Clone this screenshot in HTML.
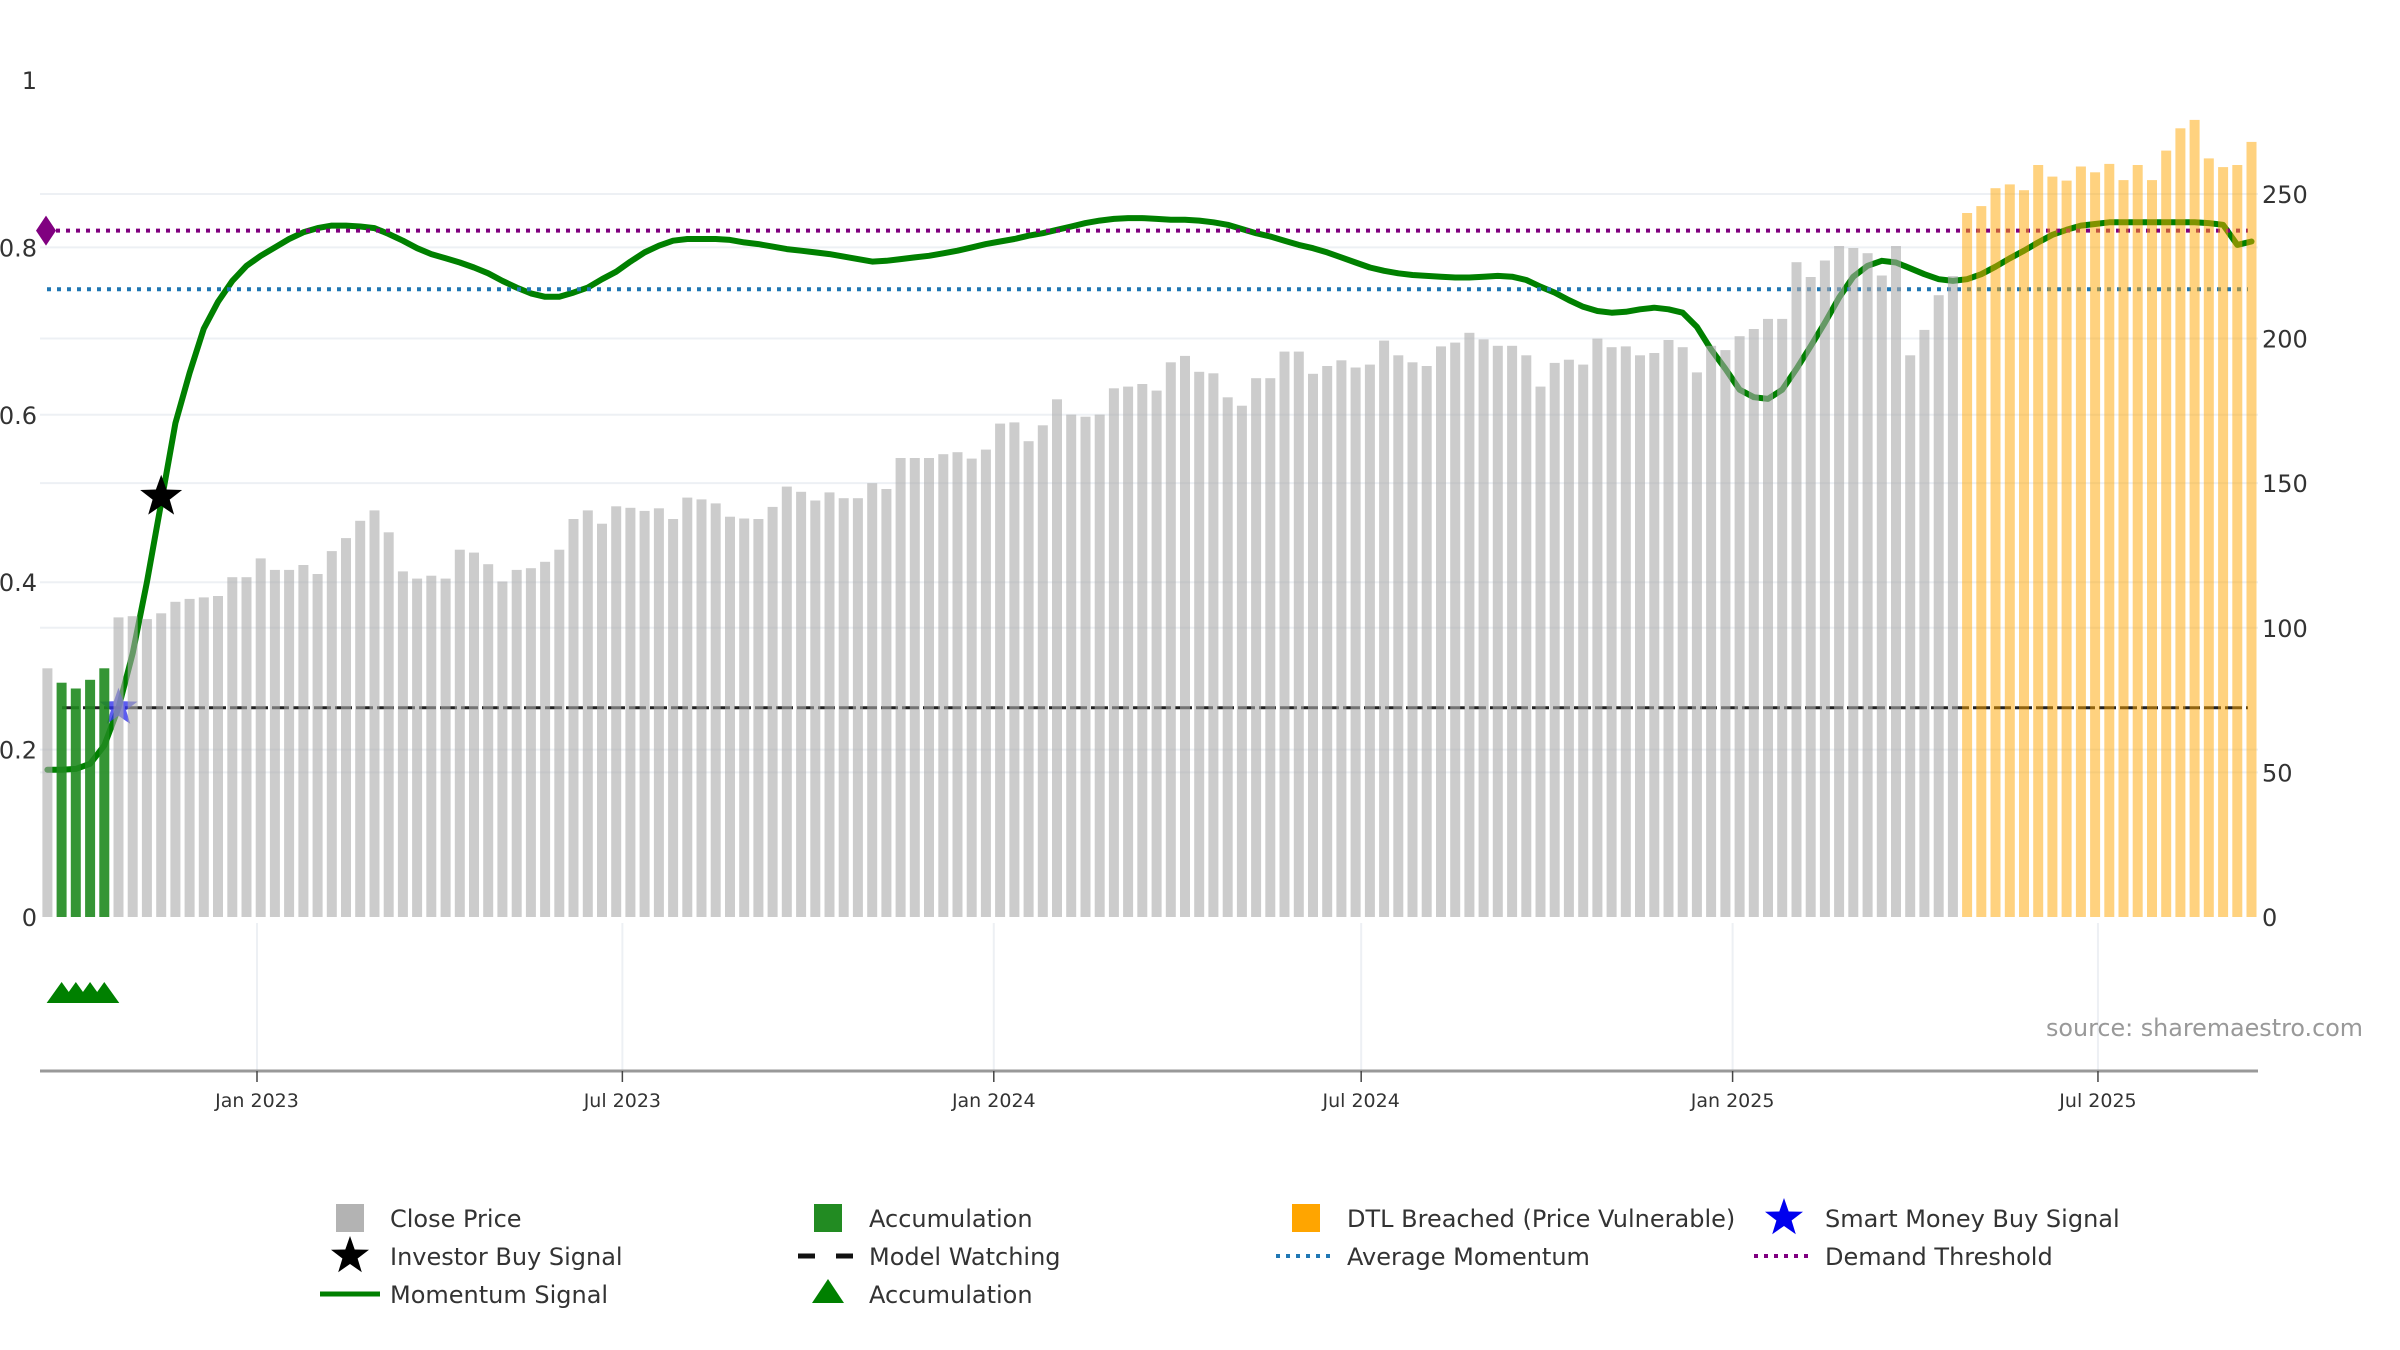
<!DOCTYPE html>
<html>
<head>
<meta charset="utf-8">
<style>
html,body{margin:0;padding:0;background:#fff;}
svg{display:block;font-family:"DejaVu Sans","Liberation Sans",sans-serif;}
</style>
</head>
<body>
<svg id="chart" width="2400" height="1350" viewBox="0 0 2400 1350" xmlns="http://www.w3.org/2000/svg"></svg>
<script>
// ---- data ----
const closePrices = [86,81,79,82,86,103.6,104,103,105,109,110,110.5,111,117.5,117.5,124,120,120,121.7,118.6,
126.5,131,137,140.6,133,119.5,117,118,117,127,126,122,116,120,120.6,122.8,127,137.6,140.6,136,
142,141.5,140.4,141.3,137.6,145,144.4,143,138.4,137.8,137.6,141.8,148.8,147,144,146.8,144.8,144.8,150,148,
158.7,158.7,158.7,160,160.7,158.5,161.6,170.6,171,164.5,170,179,173.7,173,173.7,182.8,183.4,184.3,182,191.8,
194,188.5,188,179.7,176.8,186.3,186.3,195.5,195.5,187.8,190.5,192.5,190,191,199.3,194.2,191.8,190.5,197.3,198.6,
202,199.7,197.5,197.5,194.2,183.4,191.6,192.7,191,200,197,197.3,194.2,195,199.5,197,188.3,197.5,196,200.8,
203.3,206.8,206.8,226.4,221.3,227,232,231.3,229.5,221.8,232,194.2,203,215,221.6,243.4,245.8,252,253.3,251.3,
260,256,254.6,259.5,257.5,260.4,254.8,260,254.8,265,272.7,275.6,262.3,259.3,260,268];
const momentum = [.176,.176,.177,.183,.205,.250,.315,.400,.495,.590,.650,.703,.735,.760,.778,.790,.800,.810,.818,.823,
.826,.826,.825,.823,.816,.808,.799,.792,.787,.782,.776,.769,.760,.752,.745,.741,.741,.746,.752,.762,
.771,.783,.794,.802,.808,.810,.810,.810,.809,.806,.804,.801,.798,.796,.794,.792,.789,.786,.783,.784,
.786,.788,.790,.793,.796,.800,.804,.807,.810,.814,.817,.821,.825,.829,.832,.834,.835,.835,.834,.833,
.833,.832,.830,.827,.822,.817,.813,.808,.803,.799,.794,.788,.782,.776,.772,.769,.767,.766,.765,.764,
.764,.765,.766,.765,.761,.753,.746,.737,.729,.724,.722,.723,.726,.728,.726,.722,.705,.678,.655,.630,
.621,.619,.630,.655,.682,.710,.740,.765,.778,.784,.782,.775,.768,.762,.760,.762,.768,.777,.787,.796,
.806,.815,.821,.826,.828,.830,.830,.830,.830,.830,.830,.830,.829,.827,.803,.807];
const accumulationBars = [2,3,4,5];      // 1-based bar indices
const dtlBreachedFrom = 136;             // bars from here on are DTL breached
const accumulationTriangles = [2,3,4,5];
const investorBuy = [{bar:9, value:0.502}];
const smartMoneyBuy = [{bar:6, value:0.25}];
const demandThreshold = 0.82;
const averageMomentum = 0.75;
const modelWatching = 0.25;
const leftTicks = [0,0.2,0.4,0.6,0.8,1];
const leftTickLabels = ["0","0.2","0.4","0.6","0.8","1"];
const rightTicks = [0,50,100,150,200,250];
const xTickLabels = ["Jan 2023","Jul 2023","Jan 2024","Jul 2024","Jan 2025","Jul 2025"];
const xTickDays = [0,181,365,547,731,912]; // days since 2023-01-01

// ---- scales ----
const svg = document.getElementById('chart');
const NS = 'http://www.w3.org/2000/svg';
const Y0 = 917, YTOP = 80, PL = 40, PR = 2258;
const RMAX = 289.4;
const xBar = i => 47.4 + (i - 1) * 14.22;
const xDay = d => 257 + d * 2.0186;
const yL = v => Y0 - v * (Y0 - YTOP);
const yR = v => Y0 - v / RMAX * (Y0 - YTOP);

function el(tag, attrs, parent){
  const e = document.createElementNS(NS, tag);
  for (const k in attrs) e.setAttribute(k, attrs[k]);
  (parent || svg).appendChild(e);
  return e;
}
function starPts(cx, cy, R, r){
  let p = [];
  for (let k = 0; k < 10; k++){
    const a = -Math.PI/2 + k*Math.PI/5, rr = k%2 ? r : R;
    p.push((cx + rr*Math.cos(a)).toFixed(1) + ',' + (cy + rr*Math.sin(a)).toFixed(1));
  }
  return p.join(' ');
}

// gridlines
const grid = el('g', {});


leftTicks.slice(1, 5).forEach(t => {
  const l = el('line', {x1:PL, x2:PR, y1:yL(t), y2:yL(t), stroke:'#edf0f4', 'stroke-width':2}, grid);
  
  
});
rightTicks.slice(1).forEach(t => {
  const l = el('line', {x1:PL, x2:PR, y1:yR(t), y2:yR(t), stroke:'#edf0f4', 'stroke-width':2}, grid);
  
  
});
xTickDays.forEach(d => {
  const l = el('line', {x1:xDay(d), x2:xDay(d), y1:923, y2:1071, stroke:'#edf0f4', 'stroke-width':2}, grid);
  
  
});

// momentum line (under bars)
const mPts = momentum.map((v, i) => xBar(i + 1).toFixed(1) + ',' + yL(v).toFixed(1)).join(' ');
const mLine = el('polyline', {points:mPts, fill:'none', stroke:'#008000', 'stroke-width':6, 'stroke-linejoin':'round', 'stroke-linecap':'round'});



// reference lines
const dt = el('line', {x1:46, x2:2248, y1:yL(demandThreshold), y2:yL(demandThreshold), stroke:'#800080', 'stroke-width':4, 'stroke-dasharray':'4 6'});


const am = el('line', {x1:47, x2:2248, y1:yL(averageMomentum), y2:yL(averageMomentum), stroke:'#1f77b4', 'stroke-width':4, 'stroke-dasharray':'4 6'});


const mw = el('line', {x1:62, x2:2248, y1:yL(modelWatching), y2:yL(modelWatching), stroke:'#222', 'stroke-width':3, 'stroke-dasharray':'17 4'});


const dia = el('polygon', {points:`${46-10},${yL(demandThreshold)} 46,${yL(demandThreshold)-15} ${46+10},${yL(demandThreshold)} 46,${yL(demandThreshold)+15}`, fill:'#800080'});



// smart money star (under bars)
smartMoneyBuy.forEach(s => {
  const st = el('polygon', {points:starPts(xBar(s.bar), yL(s.value), 20, 8), fill:'#3333ee', 'fill-opacity':0.8});
  
  
});

// bars
const bars = el('g', {});


closePrices.forEach((v, k) => {
  const i = k + 1;
  let fill = '#aaaaaa', op = 0.6;
  if (accumulationBars.includes(i)) { fill = '#1f8a1f'; op = 0.9; }
  else if (i >= dtlBreachedFrom) { fill = '#FFA500'; op = 0.5; }
  const b = el('rect', {x:(xBar(i) - 5).toFixed(1), y:yR(v).toFixed(1), width:10, height:(Y0 - yR(v)).toFixed(1), fill:fill, 'fill-opacity':op}, bars);
  
  
});

// investor buy star (on top)
investorBuy.forEach(s => {
  const st = el('polygon', {points:starPts(xBar(s.bar), yL(s.value), 22, 9), fill:'#000'});
  
  
});

// accumulation triangles
accumulationTriangles.forEach(i => {
  const cx = xBar(i);
  const t = el('polygon', {points:`${cx-15},1003 ${cx},982 ${cx+15},1003`, fill:'#008000'});
  
  
});

// axes
const xAxis = el('line', {x1:PL, x2:PR, y1:1071, y2:1071, stroke:'#999', 'stroke-width':3});


xTickLabels.forEach((lab, j) => {
  const x = xDay(xTickDays[j]);
  const tk = el('line', {x1:x, x2:x, y1:1071, y2:1082, stroke:'#444', 'stroke-width':1.5});
  
  
  const t = el('text', {x:x, y:1107, 'text-anchor':'middle', 'font-size':19, fill:'#333'});
  t.textContent = lab;
  
  
});
leftTicks.forEach((v, j) => {
  const t = el('text', {x:37, y:yL(v) + 9, 'text-anchor':'end', 'font-size':24, fill:'#333'});
  t.textContent = leftTickLabels[j];
  
  
});
rightTicks.forEach(v => {
  const t = el('text', {x:2262, y:yR(v) + 9, 'text-anchor':'start', 'font-size':24, fill:'#333'});
  t.textContent = String(v);
  
  
});

// source
const src = el('text', {x:2046, y:1036, 'font-size':24, fill:'#999', textLength:317, lengthAdjust:'spacingAndGlyphs'});
src.textContent = 'source: sharemaestro.com';



// legend
const legend = el('g', {});


function legText(x, y, s){
  const t = el('text', {x:x, y:y + 9, 'font-size':24, fill:'#333'}, legend);
  t.textContent = s;
  
  
}
const R1 = 1218, R2 = 1256, R3 = 1294;
let m;
m = el('rect', {x:336, y:R1-14, width:28, height:28, fill:'#b3b3b3'}, legend);
 
legText(390, R1, 'Close Price');
m = el('polygon', {points:starPts(350, R2, 20, 8), fill:'#000'}, legend);
 
legText(390, R2, 'Investor Buy Signal');
m = el('line', {x1:320, x2:380, y1:R3, y2:R3, stroke:'#008000', 'stroke-width':5}, legend);
 
legText(390, R3, 'Momentum Signal');

m = el('rect', {x:814, y:R1-14, width:28, height:28, fill:'#228B22'}, legend);
 
legText(869, R1, 'Accumulation');
m = el('line', {x1:798, x2:854, y1:R2, y2:R2, stroke:'#111', 'stroke-width':5, 'stroke-dasharray':'17 21'}, legend);
 
legText(869, R2, 'Model Watching');
m = el('polygon', {points:`812,${R3+9} 828,${R3-15} 844,${R3+9}`, fill:'#008000'}, legend);
 
legText(869, R3, 'Accumulation');

m = el('rect', {x:1292, y:R1-14, width:28, height:28, fill:'#FFA500'}, legend);
 
legText(1347, R1, 'DTL Breached (Price Vulnerable)');
m = el('line', {x1:1276, x2:1332, y1:R2, y2:R2, stroke:'#1f77b4', 'stroke-width':4, 'stroke-dasharray':'4 6'}, legend);
 
legText(1347, R2, 'Average Momentum');

m = el('polygon', {points:starPts(1784, R1, 20, 8), fill:'#0000ee'}, legend);
 
legText(1825, R1, 'Smart Money Buy Signal');
m = el('line', {x1:1754, x2:1810, y1:R2, y2:R2, stroke:'#800080', 'stroke-width':4, 'stroke-dasharray':'4 6'}, legend);
 
legText(1825, R2, 'Demand Threshold');
</script>
</body>
</html>
